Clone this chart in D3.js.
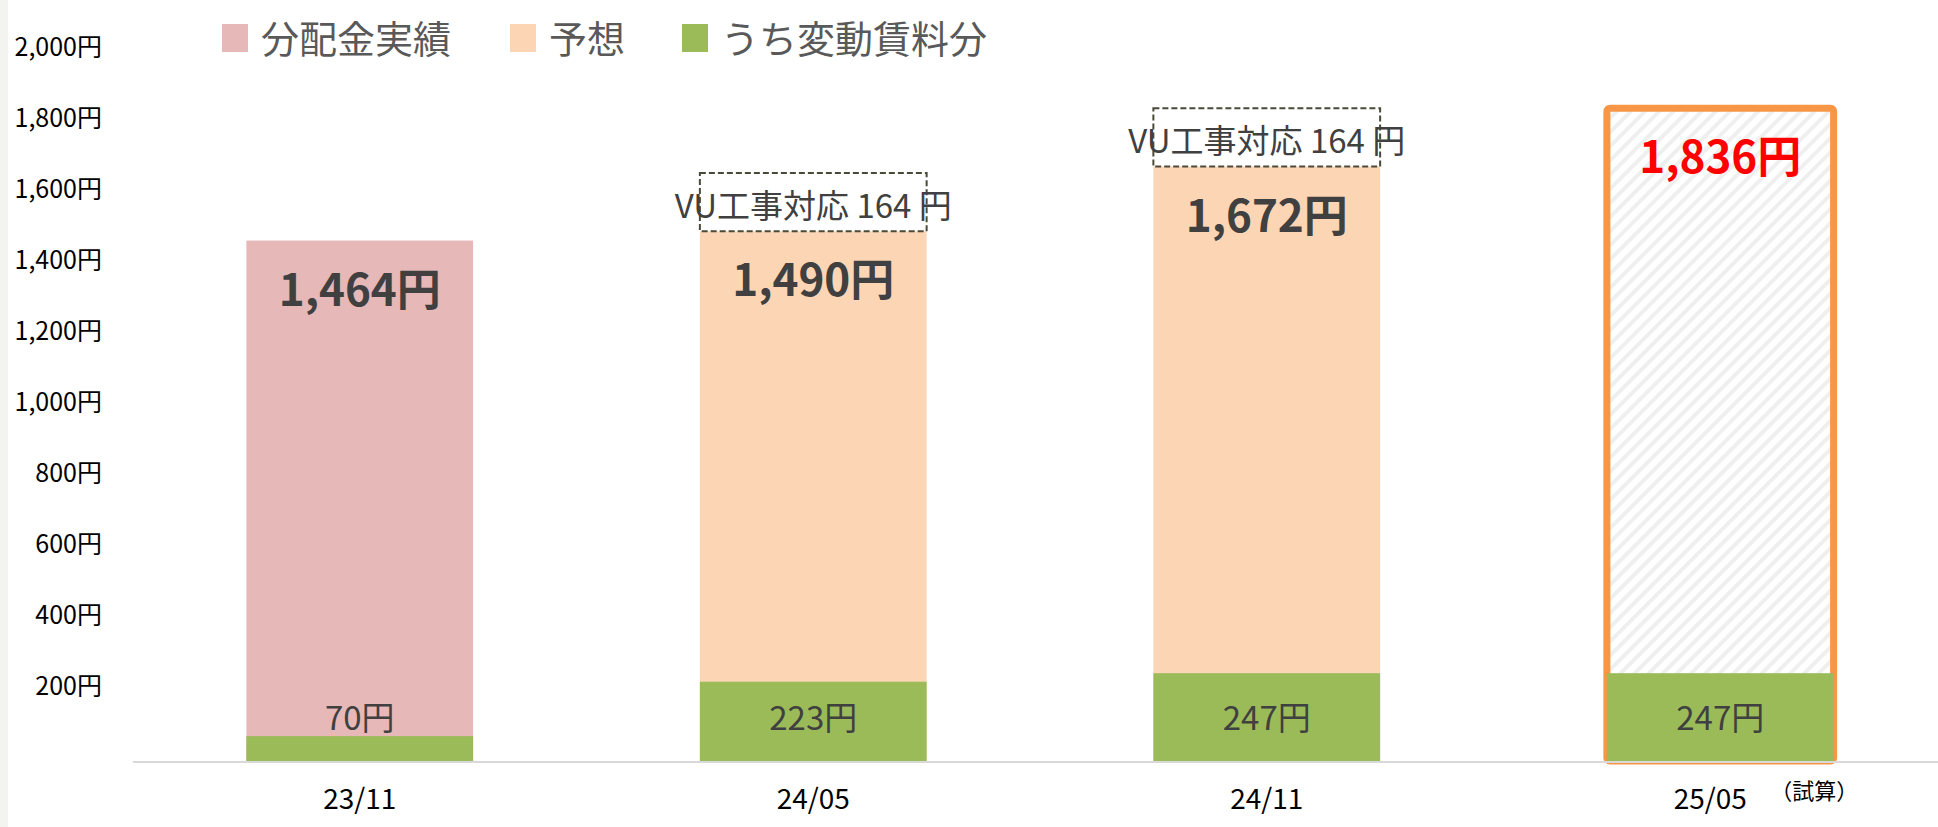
<!DOCTYPE html>
<html>
<head>
<meta charset="utf-8">
<script src="https://cdn.jsdelivr.net/npm/d3@7"></script>
<style>
  body { margin: 0; background: #fff; }
  text { font-family: "Noto Sans CJK JP", "Noto Sans", sans-serif; }
</style>
</head>
<body>
<div id="chart"></div>
<script>
// data
var categories = ["23/11", "24/05", "24/11", "25/05"];
var actual = [1464, null, null, null];        // 分配金実績
var forecast = [null, 1490, 1672, null];      // 予想
var vuAdd = [null, 164, 164, null];           // VU工事対応
var estimate = [null, null, null, 1836];      // 試算
var variableRent = [70, 223, 247, 247];       // うち変動賃料分
var yTicks = [200, 400, 600, 800, 1000, 1200, 1400, 1600, 1800, 2000];
var legendNames = ["分配金実績", "予想", "うち変動賃料分"];
var legendColors = ["#e6b8b7", "#fcd5b5", "#9bbb59"];

var width = 1938, height = 827;

var svg = d3.select("#chart").append("svg")
    .attr("width", width)
    .attr("height", height);

// faint strip on the far left edge
svg.append("rect").attr("x", 0).attr("y", 0).attr("width", 8).attr("height", height).attr("fill", "#f3f3ef");

// hatch pattern for the estimate bar
var pat = svg.append("defs").append("pattern")
    .attr("id", "hatch")
    .attr("patternUnits", "userSpaceOnUse")
    .attr("width", 10).attr("height", 10)
    .attr("patternTransform", "rotate(45)");
pat.append("rect").attr("width", 10).attr("height", 10).attr("fill", "#ffffff");
pat.append("rect").attr("x", 0).attr("width", 4).attr("height", 10).attr("fill", "#efefef");

var x = d3.scaleBand()
    .domain(categories)
    .range([133, 1947])
    .paddingInner(0.5)
    .paddingOuter(0.25);

var y = d3.scaleLinear()
    .domain([0, 2000])
    .range([761, 50]);

// y tick labels (no axis line)
var yAxis = svg.append("g")
    .attr("transform", "translate(102,0)")
    .call(d3.axisLeft(y).tickValues(yTicks).tickSize(0).tickPadding(0)
        .tickFormat(function(d) { return d3.format(",")(d) + "円"; }));
yAxis.select(".domain").remove();
yAxis.selectAll("text")
    .attr("font-size", "25px")
    .attr("fill", "#000")
    .attr("dy", "0.2em")
    .style("font-family", "'Noto Sans CJK JP', sans-serif");

var bw = x.bandwidth();

// main bars
var mainVals = categories.map(function(c, i) {
    if (actual[i] != null) return { c: c, v: actual[i], color: legendColors[0] };
    if (forecast[i] != null) return { c: c, v: forecast[i], color: legendColors[1] };
    return null;
}).filter(Boolean);

svg.selectAll(".main")
    .data(mainVals)
    .enter().append("rect")
    .attr("class", "main")
    .attr("x", function(d) { return x(d.c); })
    .attr("y", function(d) { return y(d.v); })
    .attr("width", bw)
    .attr("height", function(d) { return y(0) - y(d.v); })
    .attr("fill", function(d) { return d.color; });

// estimate bar (hatched with orange border)
var estVals = categories.map(function(c, i) { return { c: c, v: estimate[i] }; })
    .filter(function(d) { return d.v != null; });

svg.selectAll(".est")
    .data(estVals)
    .enter().append("rect")
    .attr("class", "est")
    .attr("x", function(d) { return x(d.c); })
    .attr("y", function(d) { return y(d.v); })
    .attr("width", bw)
    .attr("height", function(d) { return y(0) - y(d.v); })
    .attr("rx", 3)
    .attr("fill", "url(#hatch)")
    .attr("stroke", "#f79646")
    .attr("stroke-width", 7);

// variable rent part
svg.selectAll(".var")
    .data(categories.map(function(c, i) { return { c: c, v: variableRent[i] }; }))
    .enter().append("rect")
    .attr("class", "var")
    .attr("x", function(d) { return x(d.c); })
    .attr("y", function(d) { return y(d.v); })
    .attr("width", bw)
    .attr("height", function(d) { return y(0) - y(d.v); })
    .attr("fill", legendColors[2]);

// x axis baseline
svg.append("line")
    .attr("x1", 133).attr("x2", width)
    .attr("y1", y(0) + 1).attr("y2", y(0) + 1)
    .attr("stroke", "#d9d9d9")
    .attr("stroke-width", 2);

// VU dashed boxes stacked on the forecast bars
var vuVals = categories.map(function(c, i) { return { c: c, base: forecast[i], v: vuAdd[i] }; })
    .filter(function(d) { return d.v != null; });

svg.selectAll(".vu")
    .data(vuVals)
    .enter().append("rect")
    .attr("class", "vu")
    .attr("x", function(d) { return x(d.c); })
    .attr("y", function(d) { return y(d.base + d.v); })
    .attr("width", bw)
    .attr("height", function(d) { return y(d.base) - y(d.base + d.v); })
    .attr("fill", "none")
    .attr("stroke", "#4a4a38")
    .attr("stroke-width", 2)
    .attr("stroke-dasharray", "6,3");

svg.selectAll(".vuText")
    .data(vuVals)
    .enter().append("text")
    .attr("x", function(d) { return x(d.c) + bw / 2; })
    .attr("y", function(d) { return (y(d.base) + y(d.base + d.v)) / 2 + 2; })
    .attr("dominant-baseline", "central")
    .attr("text-anchor", "middle")
    .attr("font-size", "33px")
    .attr("fill", "#404040")
    .text(function(d) { return "VU工事対応 " + d.v + " 円"; });

// total labels
var totals = categories.map(function(c, i) {
    var v = actual[i] != null ? actual[i] : (forecast[i] != null ? forecast[i] : estimate[i]);
    return { c: c, v: v, red: estimate[i] != null };
});

svg.selectAll(".total")
    .data(totals)
    .enter().append("text")
    .attr("x", function(d) { return x(d.c) + bw / 2; })
    .attr("y", function(d) { return y(d.v) + 46; })
    .attr("dominant-baseline", "central")
    .attr("text-anchor", "middle")
    .attr("font-size", "44px")
    .attr("font-weight", "bold")
    .attr("fill", function(d) { return d.red ? "#ff0000" : "#404040"; })
    .text(function(d) { return d3.format(",")(d.v) + "円"; });

// variable rent labels
svg.selectAll(".varText")
    .data(categories.map(function(c, i) { return { c: c, v: variableRent[i] }; }))
    .enter().append("text")
    .attr("x", function(d) { return x(d.c) + bw / 2; })
    .attr("y", y(0) - 45)
    .attr("dominant-baseline", "central")
    .attr("text-anchor", "middle")
    .attr("font-size", "33px")
    .attr("fill", "#404040")
    .text(function(d) { return d.v + "円"; });

// x labels
svg.selectAll(".xlab")
    .data(categories)
    .enter().append("text")
    .attr("x", function(d, i) { return x(d) + bw / 2 - (i === 3 ? 10 : 0); })
    .attr("y", 797)
    .attr("dominant-baseline", "central")
    .attr("text-anchor", "middle")
    .attr("font-size", "28px")
    .attr("fill", "#000")
    .text(function(d) { return d; });

svg.append("text")
    .attr("x", x(categories[3]) + bw / 2 + 50)
    .attr("y", 789)
    .attr("dominant-baseline", "central")
    .attr("font-size", "22px")
    .attr("fill", "#000")
    .text("（試算）");

// legend
var legX = [222, 510, 682];
var leg = svg.selectAll(".leg")
    .data(legendNames)
    .enter().append("g")
    .attr("transform", function(d, i) { return "translate(" + legX[i] + ",24)"; });
leg.append("rect")
    .attr("width", 26).attr("height", 28)
    .attr("fill", function(d, i) { return legendColors[i]; });
leg.append("text")
    .attr("x", 39)
    .attr("y", 12)
    .attr("dominant-baseline", "central")
    .attr("font-size", "38px")
    .attr("fill", "#595959")
    .text(function(d) { return d; });
</script>
</body>
</html>
